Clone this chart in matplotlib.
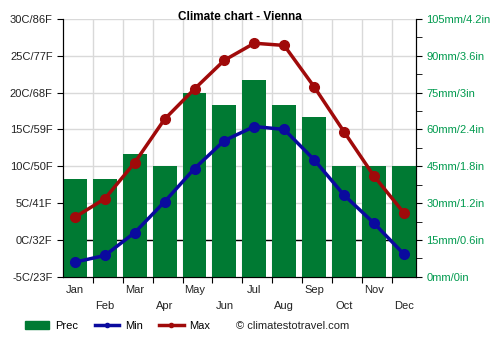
import matplotlib
matplotlib.use("Agg")
import matplotlib.pyplot as plt
from matplotlib.lines import Line2D
from matplotlib.patches import Patch
from matplotlib.ticker import MultipleLocator

plt.rcParams['font.family'] = ['Liberation Sans', 'DejaVu Sans']

months = ['Jan', 'Feb', 'Mar', 'Apr', 'May', 'Jun',
          'Jul', 'Aug', 'Sep', 'Oct', 'Nov', 'Dec']
prec = [40, 40, 50, 45, 75, 70, 80, 70, 65, 45, 45, 45]
tmin = [-3.0, -2.1, 1.0, 5.2, 9.7, 13.5, 15.4, 15.0, 10.9, 6.1, 2.3, -1.9]
tmax = [3.1, 5.6, 10.5, 16.4, 20.5, 24.4, 26.7, 26.4, 20.8, 14.7, 8.7, 3.7]
left_labels = ['-5C/23F', '0C/32F', '5C/41F', '10C/50F', '15C/59F',
               '20C/68F', '25C/77F', '30C/86F']
right_labels = ['0mm/0in', '15mm/0.6in', '30mm/1.2in', '45mm/1.8in',
                '60mm/2.4in', '75mm/3in', '90mm/3.6in', '105mm/4.2in']

green = '#007a33'
blue = '#0a0a9e'
red = '#a00a0a'

fig = plt.figure(figsize=(5, 3.5), dpi=100)
ax = fig.add_axes([0.126, 0.209, 0.706, 0.737])
ax2 = ax.twinx()

# precipitation on the right axis, drawn underneath
ax.set_zorder(2)
ax.patch.set_visible(False)
ax2.set_zorder(1)

x = list(range(12))
ax2.bar(x, prec, width=0.8, color=green, zorder=3)
ax2.set_ylim(0, 105)
ax2.set_yticks(range(0, 106, 15))
ax2.set_yticklabels(right_labels, color='#009a4e', fontsize=8)
ax2.yaxis.set_minor_locator(MultipleLocator(7.5))
ax2.tick_params(axis='y', which='both', length=4)

# grid on the precipitation axis so it sits behind the bars
for k in range(1, 12):
    ax2.axvline(k - 0.4, color='#d9d9d9', lw=1, zorder=1)
for v in range(15, 106, 15):
    ax2.axhline(v, color='#d9d9d9', lw=1, zorder=1)
ax2.axhline(15, color='black', lw=1, zorder=1.5)

ax.plot(x, tmax, color=red, lw=2.5, marker='o', ms=7, zorder=4)
ax.plot(x, tmin, color=blue, lw=2.5, marker='o', ms=7, zorder=4)
ax.set_ylim(-5, 30)
ax.set_yticks(range(-5, 31, 5))
ax.set_yticklabels(left_labels, fontsize=8, color='#222222')
ax.set_xlim(-0.4, 11.41)

ax.set_xticks([k - 0.4 for k in range(1, 12)])
ax.set_xticklabels([])
ax.set_xticks(x, minor=True)
ax.set_xticklabels([m if i % 2 == 0 else '\n' + m for i, m in enumerate(months)],
                   minor=True, fontsize=8, color='#222222', linespacing=1.7)
ax.tick_params(axis='x', which='minor', length=0, pad=6)
ax.tick_params(axis='x', which='major', length=4)
ax.tick_params(axis='y', length=4)
ax2.set_xlim(-0.4, 11.41)

for a in (ax, ax2):
    a.spines['top'].set_visible(False)

fig.text(0.479, 0.951, 'Climate chart - Vienna', fontsize=8.5,
         fontweight='bold', ha='center', va='center')

handles = [Patch(color=green),
           Line2D([0], [0], color=blue, lw=2.5, marker='o', ms=3),
           Line2D([0], [0], color=red, lw=2.5, marker='o', ms=3)]
fig.legend(handles, ['Prec', 'Min', 'Max'], loc='center left',
           bbox_to_anchor=(0.03, 0.069), ncol=3, frameon=False,
           fontsize=8, handlelength=2.2, handletextpad=0.5, columnspacing=1.5)
fig.text(0.472, 0.069, '\u00a9 climatestotravel.com', fontsize=8,
         va='center', color='#222222')

fig.savefig('out.png', dpi=100)
